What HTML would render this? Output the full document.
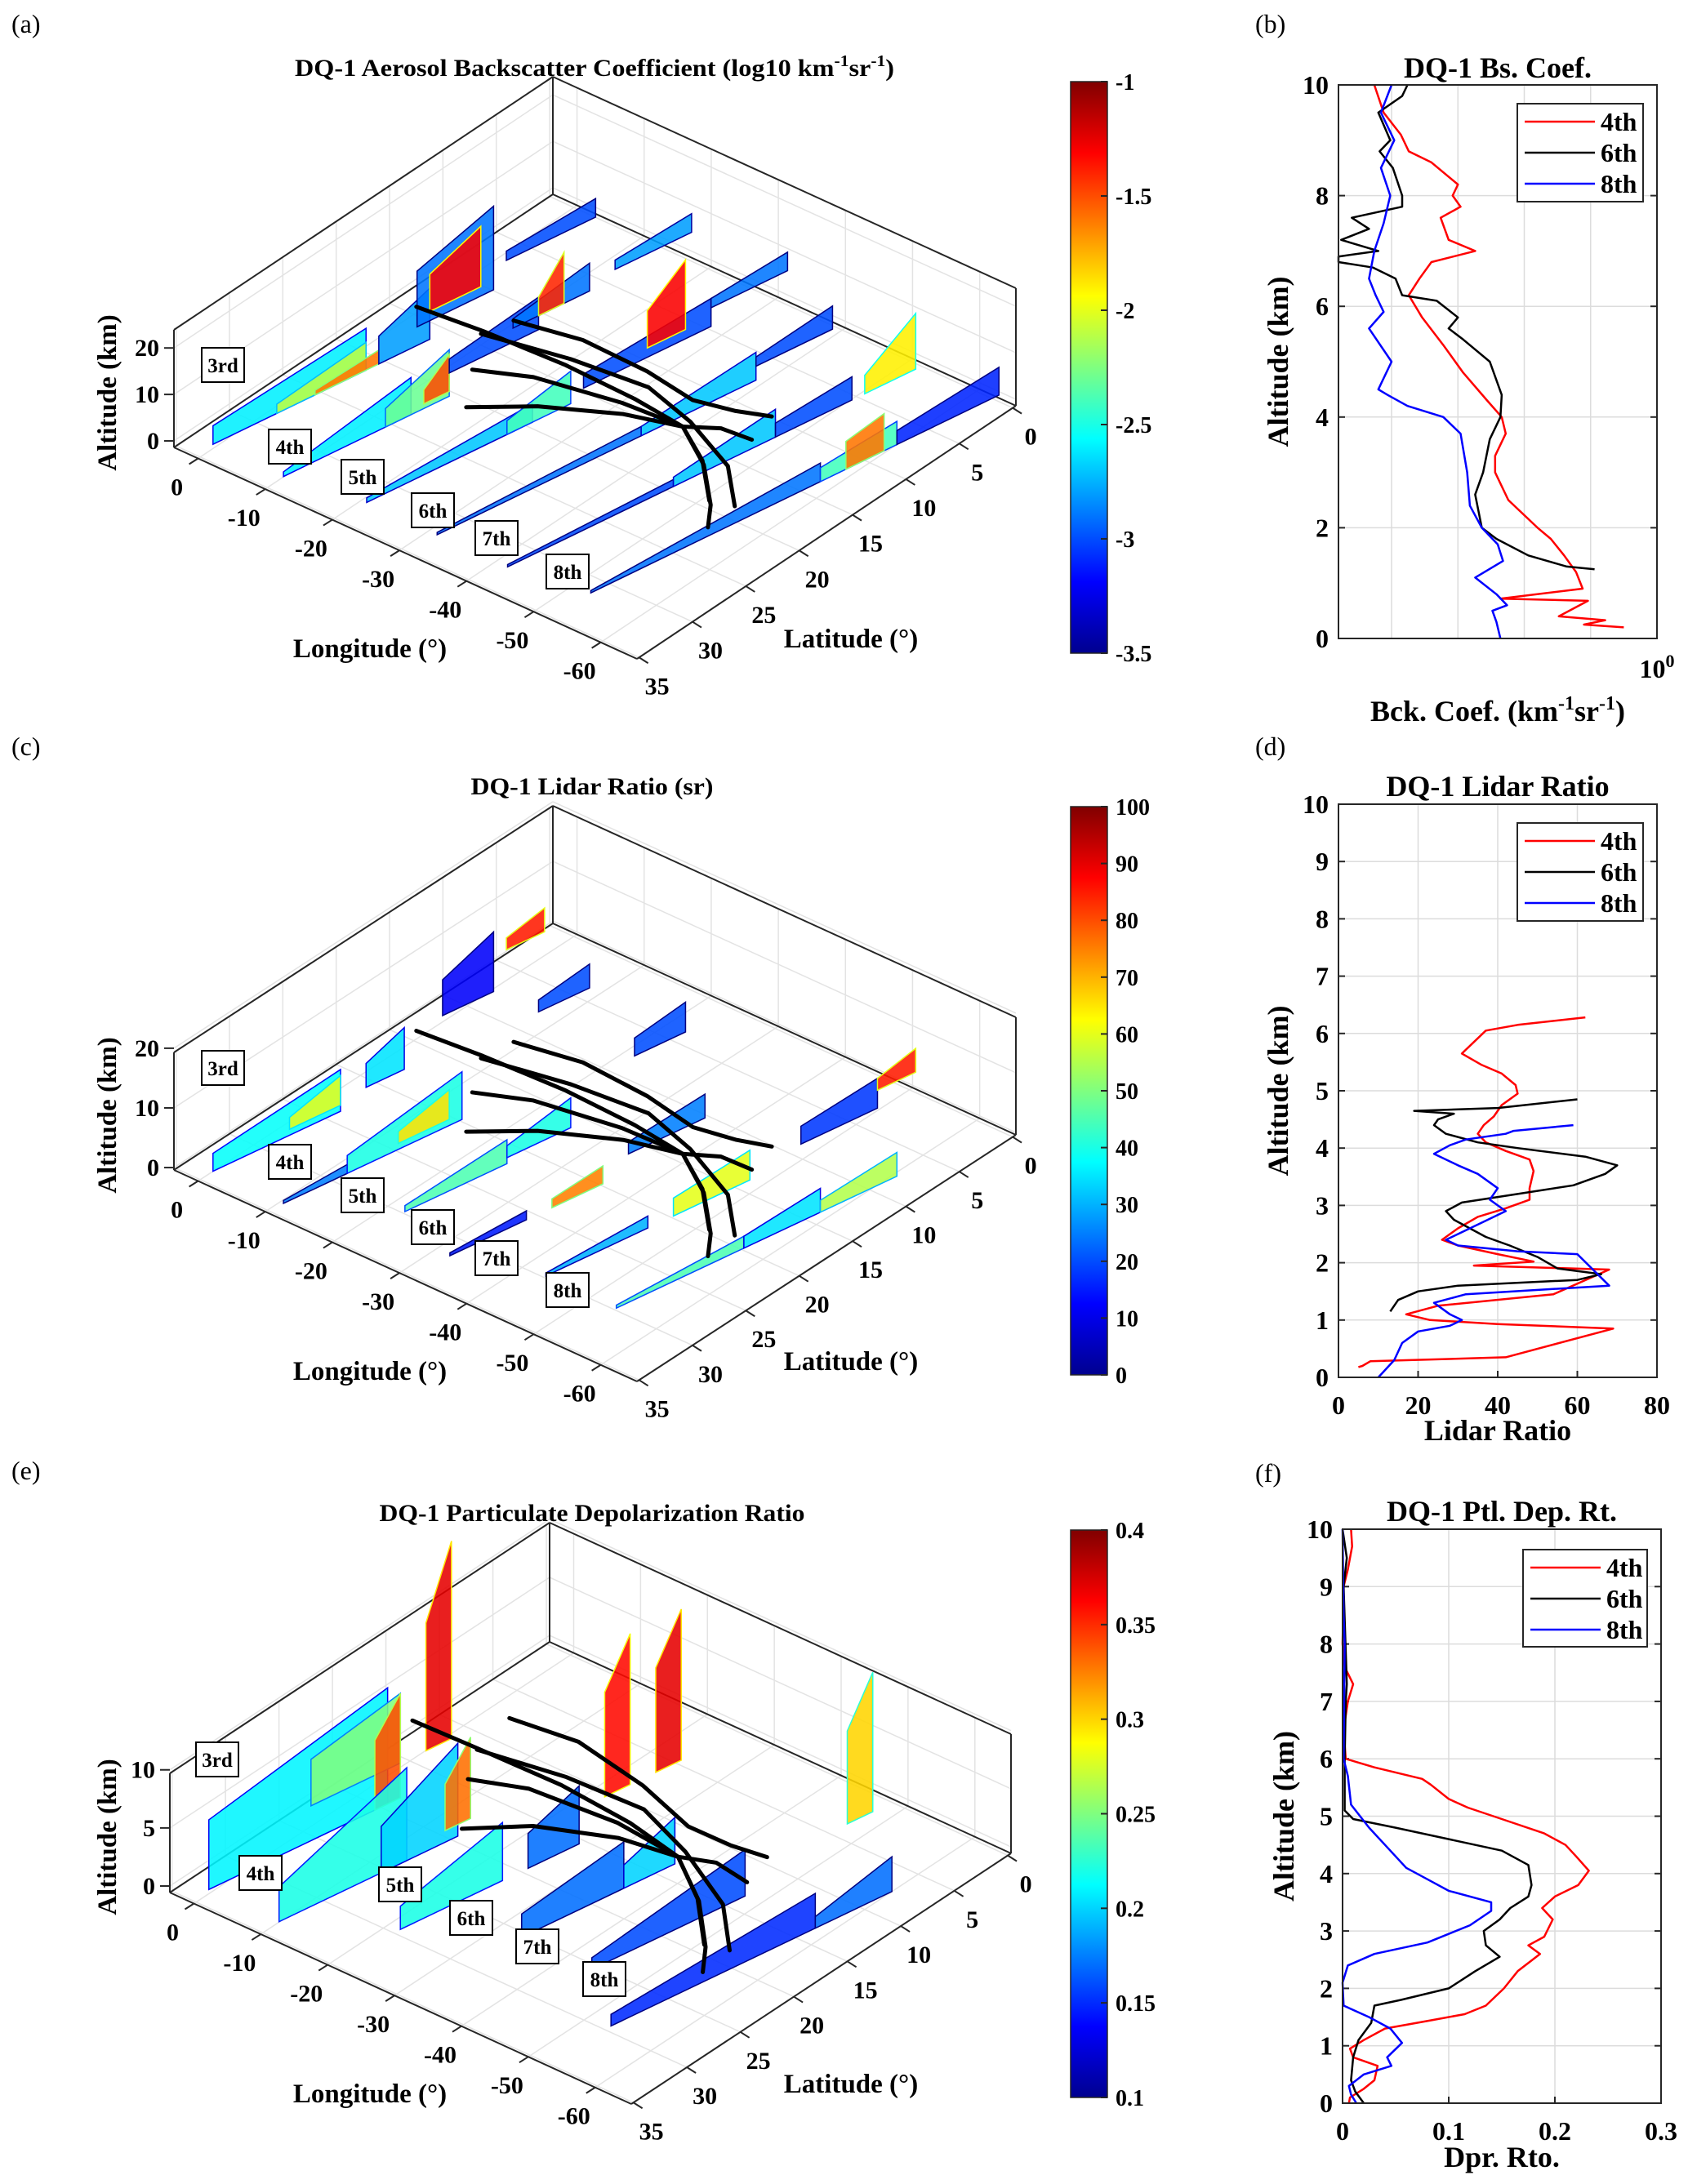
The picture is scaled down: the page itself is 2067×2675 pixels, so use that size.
<!DOCTYPE html>
<html><head><meta charset="utf-8">
<style>
html,body{margin:0;padding:0;background:#fff;}
svg{display:block;font-family:"Liberation Serif","DejaVu Serif",serif;}
</style></head>
<body>
<svg id="fig" xmlns="http://www.w3.org/2000/svg" width="2067" height="2675" viewBox="0 0 2067 2675">
<defs>
<linearGradient id="jetgrad" x1="0" y1="1" x2="0" y2="0">
<stop offset="0" stop-color="#00008f"/><stop offset="0.125" stop-color="#0000ff"/>
<stop offset="0.375" stop-color="#00ffff"/><stop offset="0.625" stop-color="#ffff00"/>
<stop offset="0.875" stop-color="#ff0000"/><stop offset="1" stop-color="#800000"/>
</linearGradient>
</defs>
</svg>
<script>
// ---------- profile data (altitude km, value) ----------
const bAlt4 = [10,9.5,9.1,8.8,8.6,8.2,8.0,7.8,7.6,7.2,7.0,6.8,6.5,6.2,5.8,5.3,4.8,4.3,4.0,3.7,3.3,3.0,2.5,2.0,1.8,1.5,1.2,0.9,0.72,0.68,0.4,0.33,0.25,0.2];
const bVal4 = [-2.13,-2.06,-1.93,-1.87,-1.70,-1.50,-1.54,-1.48,-1.63,-1.57,-1.37,-1.70,-1.79,-1.87,-1.77,-1.61,-1.46,-1.28,-1.17,-1.14,-1.22,-1.22,-1.12,-0.90,-0.80,-0.70,-0.61,-0.56,-1.18,-0.52,-0.74,-0.39,-0.55,-0.25];
const bAlt6 = [10,9.8,9.5,9.0,8.8,8.5,8.0,7.8,7.6,7.4,7.2,7.0,6.9,6.8,6.7,6.5,6.2,6.1,5.8,5.6,5.4,5.0,4.4,4.0,3.6,3.0,2.6,2.0,1.8,1.5,1.3,1.25];
const bVal6 = [-1.88,-1.92,-2.10,-2.01,-2.09,-1.99,-1.92,-1.92,-2.30,-2.17,-2.38,-2.10,-2.40,-2.40,-2.14,-1.97,-1.92,-1.66,-1.50,-1.57,-1.46,-1.26,-1.17,-1.18,-1.26,-1.31,-1.37,-1.32,-1.21,-0.97,-0.68,-0.47];
const bAlt8 = [10,9.5,9.0,8.5,8.0,7.5,7.0,6.5,6.2,5.9,5.6,5.0,4.5,4.4,4.2,4.0,3.7,3.0,2.4,2.0,1.7,1.4,1.1,0.8,0.6,0.5,0.3,0];
const bVal8 = [-2.0,-2.08,-1.98,-2.08,-2.01,-2.06,-2.13,-2.17,-2.12,-2.06,-2.17,-2.0,-2.1,-2.03,-1.88,-1.61,-1.48,-1.43,-1.41,-1.32,-1.20,-1.16,-1.37,-1.21,-1.13,-1.24,-1.21,-1.18];

const dAlt4 = [6.28,6.15,6.05,5.85,5.65,5.45,5.3,5.1,4.95,4.75,4.55,4.4,4.25,4.1,3.95,3.8,3.6,3.3,3.1,2.95,2.8,2.6,2.4,2.3,2.15,2.02,1.95,1.88,1.45,1.25,1.1,1.0,0.93,0.85,0.35,0.28,0.2,0.18];
const dVal4 = [62,45,37,34,31,36,41,44.5,45,41,39,36.5,35,37,42,48,49,48,48,42,35,30,26,30,40,49,34,68,54,25,17,23,40,69,42,8,6,5];
const dAlt6 = [4.85,4.7,4.65,4.6,4.5,4.4,4.25,4.1,4.0,3.85,3.7,3.55,3.35,3.2,3.05,2.9,2.75,2.6,2.45,2.3,2.1,1.9,1.8,1.7,1.6,1.5,1.35,1.15];
const dVal6 = [60,40,19,29,25,24,27,35,45,62,70,67,59,45,31,27,29,33,37,43,50,55,66,60,30,20,15,13];
const dAlt8 = [4.4,4.3,4.25,4.15,4.05,3.9,3.7,3.55,3.3,3.1,2.9,2.7,2.5,2.4,2.3,2.2,2.15,1.6,1.45,1.3,1.1,1.0,0.9,0.8,0.6,0.3,0.15,0];
const dVal8 = [59,44,42,32,28,24,30,35,40,38,42,36,30,27,30,45,60,68,32,24,28,31,28,20,16,14,12,10];

const fAlt4 = [10,9.7,9.3,9.0,8,7.6,7.3,7.0,6.5,6.0,5.85,5.65,5.55,5.3,5.15,4.95,4.7,4.5,4.3,4.05,3.8,3.6,3.4,3.2,2.9,2.75,2.6,2.3,2.0,1.7,1.55,1.45,1.3,1.1,0.95,0.8,0.65,0.4,0.25,0.1,0];
const fVal4 = [0.008,0.009,0.005,0.001,0,0.002,0.01,0.005,0.001,0.003,0.03,0.075,0.083,0.10,0.118,0.15,0.19,0.21,0.22,0.232,0.222,0.2,0.188,0.198,0.19,0.175,0.186,0.165,0.152,0.135,0.115,0.085,0.04,0.02,0.007,0.01,0.033,0.03,0.02,0.007,0.006];
const fAlt6 = [10,9.5,9,7.3,7.0,6,5.1,4.95,4.8,4.6,4.4,4.15,3.8,3.6,3.4,3.2,3.0,2.75,2.55,2.3,2.0,1.8,1.7,1.4,1.1,0.8,0.4,0.2,0];
const fVal6 = [0,0.004,0.001,0.004,0.003,0.002,0.002,0.01,0.05,0.1,0.15,0.175,0.178,0.175,0.158,0.148,0.133,0.135,0.148,0.125,0.1,0.055,0.03,0.027,0.015,0.01,0.008,0.012,0.02];
const fAlt8 = [10,8.5,8,6,5.7,5.2,4.8,4.5,4.1,3.9,3.7,3.5,3.35,3.1,2.8,2.6,2.4,2.1,1.7,1.5,1.3,1.05,0.8,0.65,0.5,0.3,0.15,0];
const fVal8 = [0,0.001,0.002,0.001,0.005,0.008,0.025,0.04,0.06,0.08,0.1,0.14,0.14,0.12,0.08,0.03,0.005,0,0.001,0.025,0.045,0.056,0.042,0.046,0.02,0.006,0.008,0.013];

// ---------- 3D curtain data ----------
const trackNames = ["3rd","4th","5th","6th","7th","8th"];
const trackLon = [0,-10.5,-21,-31.5,-42,-52.5];
// [track, latStart, latEnd, altBottom, topAtStart, topAtEnd, value]
const segA = [
 [0,34,22,0,4,9,-2.6],[0,29,22,0,2,6,-2.1],[0,26,21,0,1,3,-1.6],[0,21,17,0,6,11,-2.8],
 [0,18,12,4,16,22,-2.9],[0,17,13,6,14,19,-1.3],[0,11,4,9,11,13,-3.0],
 [1,34,24,0,1,8,-2.6],[1,26,21,0,4,10,-2.3],[1,23,21,1,4,9,-1.5],[1,21,14,5,8,12,-3.0],
 [1,16,10,8,10,14,-2.9],[1,14,12,8,12,19,-1.4],[1,8,2,10,12,14,-2.8],
 [2,33,20,0,1,4,-2.7],[2,22,17,0,3,7,-2.4],[2,16,6,2,5,8,-3.0],[2,11,8,4,12,19,-1.3],[2,6,0,6,8,10,-2.9],
 [3,33,17,0,0.5,2,-2.9],[3,17,8,0,2,6,-2.7],[3,8,2,3,5,8,-3.0],
 [4,33,20,0,0.5,1.5,-3.0],[4,20,12,0,2,6,-2.7],[4,12,6,0,3,5,-3.0],[4,5,1,0,4,12,-1.9],
 [5,32,14,0,0.5,4,-2.9],[5,14,8,0,3,5,-2.4],[5,12,9,0,6,8,-1.6],[5,8,0,0,3,6,-3.1]
];
const segC = [
 [0,34,24,0,3,7,38],[0,28,24,1,3,6,60],[0,22,19,2,6,9,35],[0,16,12,8,14,18,12],[0,11,8,14,16,18,85],
 [1,34,29,0,0.5,1.5,25],[1,29,20,0,3,8,40],[1,25,21,1,3,6,65],[1,14,10,12,14,16,20],
 [2,30,22,0,1,4,45],[2,22,17,1,3,6,40],[2,12,8,8,11,13,20],
 [3,32,26,0,0.5,1.5,15],[3,24,20,0,1.5,3,75],[3,18,12,3,5,7,25],
 [4,30,22,0,0.5,2,30],[4,20,14,0,3,5,60],[4,10,4,2,5,7,18],[4,4,1,5,7,9,85],
 [5,30,20,0,0.5,2,45],[5,20,14,0,2,4,35],[5,14,8,0,2,4,55]
];
const segE = [
 [0,34,20,0,6,10,0.21],[0,26,19,3,7,9,0.25],[0,21,19,0,6,9,0.34],[0,17,15,3,14,20,0.37],
 [1,34,24,0,3,8,0.22],[1,26,20,0,4,8,0.2],[1,21,19,1,5,8,0.33],
 [2,30,22,0,2,5,0.22],[2,20,16,0,3,5,0.17],[2,14,12,3,12,16,0.36],[2,10,8,3,12,16,0.37],
 [3,26,18,0,2,4,0.17],[3,18,14,0,2,4,0.2],
 [4,26,14,0,1,4,0.16],[4,6,4,2,10,14,0.3],
 [5,30,14,0,1,3,0.15],[5,14,8,0,1,3,0.17]
];
// trajectories: lon, lat, alt
const trajLon = [[-5,-13.5,-25,-35,-42,-48,-53,-55.3],[-18.9,-25,-35,-42,-47,-52],[-21.5,-28,-36,-42,-45,-48],[-17.9,-26,-34,-40,-44,-47],[-14,-25,-35,-42,-50,-55]];
const trajLat = [[17.9,17,16.5,16.3,16.2,18,20.5,22.2],[21.4,19.5,17.5,16.2,17.5,20],[23.6,21,18,16.2,14.5,13.5],[16.9,15.5,14.5,14,12.5,11],[17.5,16,15,15.5,17,19.5]];
const trajAlt = [[8,7,6.5,5.5,4,2.5,1,0.3],[9,8.5,6.5,4,2,0.5],[6,6.5,5.5,4,3,1],[12,11,8,5,3,1.5],[7.5,7,6,4,2,0.5]];

const NS = "http://www.w3.org/2000/svg";
const svg = document.getElementById('fig');
function el(tag, attrs, parent, text){
  const e = document.createElementNS(NS, tag);
  for (const k in attrs) e.setAttribute(k, attrs[k]);
  if (text !== undefined) e.textContent = text;
  (parent || svg).appendChild(e);
  return e;
}
function jet(t){
  t = Math.max(0, Math.min(1, t));
  const c = v => Math.round(255*Math.max(0, Math.min(1, v)));
  return `rgb(${c(1.5-Math.abs(4*t-3))},${c(1.5-Math.abs(4*t-2))},${c(1.5-Math.abs(4*t-1))})`;
}
const BOLD = "bold";

// ---------- 3D panels ----------
const panels3d = [
 {key:'a', front:[780,807], left:[213,548], right:[1244,497], h:144, zmin:-1.4, zmax:23.9, zt:[0,10,20], seg:segA, vmin:-3.5, vmax:-1, ts:1.0,
  title:"DQ-1 Aerosol Backscatter Coefficient (log10 km", titleY:93, titleW:734, cbY:[100,800], cbT:["-1","-1.5","-2","-2.5","-3","-3.5"],
  labels:[[273,447],[355,547],[444,584],[530,625],[608,659],[695,700]], tag:"(a)", tagY:40},
 {key:'c', front:[780,1692], left:[213,1433], right:[1244,1390], h:144, zmin:-0.4, zmax:19.3, zt:[0,10,20], seg:segC, vmin:0, vmax:100, ts:0.9,
  title:"DQ-1 Lidar Ratio (sr)", titleY:973, titleW:297, cbY:[988,1684], cbT:["100","90","80","70","60","50","40","30","20","10","0"],
  labels:[[273,1308],[355,1423],[444,1464],[530,1503],[608,1541],[695,1580]], tag:"(c)", tagY:925},
 {key:'e', front:[773,2577], left:[208,2318], right:[1238,2270], h:146, zmin:-0.56, zmax:9.7, zt:[0,5,10], seg:segE, vmin:0.1, vmax:0.4, ts:0.75,
  title:"DQ-1 Particulate Depolarization Ratio", titleY:1863, titleW:521, cbY:[1874,2569], cbT:["0.4","0.35","0.3","0.25","0.2","0.15","0.1"],
  labels:[[266,2155],[319,2294],[490,2308],[577,2349],[658,2384],[740,2424]], tag:"(e)", tagY:1812}
];
const LONMIN=-65.4, LONMAX=3.6, LATMIN=-0.3, LATMAX=35.2;

panels3d.forEach(p => {
  const g = el('g', {}, svg);
  
  
  const P = (lon, lat, z) => {
    const u = (lon - LONMIN)/(LONMAX - LONMIN), v = (LATMAX - lat)/(LATMAX - LATMIN);
    const x = p.front[0] + u*(p.left[0]-p.front[0]) + v*(p.right[0]-p.front[0]);
    const y = p.front[1] + u*(p.left[1]-p.front[1]) + v*(p.right[1]-p.front[1]) - (z - p.zmin)/(p.zmax - p.zmin)*p.h;
    return [x, y];
  };
  const line = (a, b, attrs) => el('line', Object.assign({x1:a[0], y1:a[1], x2:b[0], y2:b[1]}, attrs), g);
  const L0 = P(LONMAX, LATMAX, p.zmin), B0 = P(LONMAX, LATMIN, p.zmin), R0 = P(LONMIN, LATMIN, p.zmin), F0 = P(LONMIN, LATMAX, p.zmin);
  const L1 = P(LONMAX, LATMAX, p.zmax), B1 = P(LONMAX, LATMIN, p.zmax), R1 = P(LONMIN, LATMIN, p.zmax);
  const grid = {stroke:'#e3e3e3', 'stroke-width':1.5};
  [0,-10,-20,-30,-40,-50,-60].forEach(lon => { line(P(lon,LATMAX,p.zmin), P(lon,LATMIN,p.zmin), grid); line(P(lon,LATMIN,p.zmin), P(lon,LATMIN,p.zmax), grid); });
  [0,5,10,15,20,25,30,35].forEach(lat => { line(P(LONMAX,lat,p.zmin), P(LONMIN,lat,p.zmin), grid); line(P(LONMAX,lat,p.zmin), P(LONMAX,lat,p.zmax), grid); });
  p.zt.forEach(z => { line(P(LONMAX,LATMAX,z), P(LONMAX,LATMIN,z), grid); line(P(LONMAX,LATMIN,z), P(LONMIN,LATMIN,z), grid); });
  const edge = {stroke:'#262626', 'stroke-width':2};
  [[L0,B0],[B0,R0],[L0,F0],[F0,R0],[L0,L1],[B0,B1],[R0,R1],[L1,B1],[B1,R1]].forEach(e => line(e[0], e[1], edge));
  // curtains
  p.seg.forEach(s => {
    const lonAt = lat => trackLon[s[0]] - 0.31*(35 - lat);
    const a = P(lonAt(s[1]), s[1], s[3]), b = P(lonAt(s[2]), s[2], s[3]);
    const c = P(lonAt(s[2]), s[2], s[5]), d = P(lonAt(s[1]), s[1], s[4]);
    const t = (s[6] - p.vmin)/(p.vmax - p.vmin);
    const poly = el('polygon', {points:[a,b,c,d].map(q => q.join(',')).join(' '), fill:jet(t), 'fill-opacity':0.88, stroke:jet(Math.max(0,t-0.25)), 'stroke-width':1.5}, g);
    
    
  });
  // trajectories
  trajLon.forEach((tl, i) => {
    const pts = tl.map((lon, j) => P(lon, trajLat[i][j], trajAlt[i][j]*p.ts).join(',')).join(' ');
    const pl = el('polyline', {points:pts, fill:'none', stroke:'#000', 'stroke-width':5, 'stroke-linejoin':'round', 'stroke-linecap':'round'}, g);
    
    
  });
  [0,-10,-20,-30,-40,-50,-60].forEach(lon => {
    const q = P(lon, LATMAX, p.zmin);
    line(q, [q[0]-11, q[1]+7], edge);
    const t = el('text', {x:q[0]-26, y:q[1]+45, 'font-size':30, 'font-weight':BOLD, 'text-anchor':'middle'}, g, String(lon));
    
    
  });
  [0,5,10,15,20,25,30,35].forEach(lat => {
    const q = P(LONMIN, lat, p.zmin);
    line(q, [q[0]+11, q[1]+7], edge);
    const t = el('text', {x:q[0]+22, y:q[1]+45, 'font-size':30, 'font-weight':BOLD, 'text-anchor':'middle'}, g, String(lat));
    
    
  });
  p.zt.forEach(z => {
    const q = P(LONMAX, LATMAX, z);
    line(q, [q[0]-12, q[1]], edge);
    const t = el('text', {x:q[0]-18, y:q[1]+10, 'font-size':30, 'font-weight':BOLD, 'text-anchor':'end'}, g, String(z));
    
    
  });
  const yl = el('text', {x:0, y:0, 'font-size':33, 'font-weight':BOLD, 'text-anchor':'middle', transform:`translate(142,${(L0[1]+L1[1])/2+5}) rotate(-90)`}, g, 'Altitude (km)');
  
  
  const xl = el('text', {x:453, y:F0[1]-2, 'font-size':33, 'font-weight':BOLD, 'text-anchor':'middle'}, g, 'Longitude (°)');
  
  
  const la = el('text', {x:1042, y:F0[1]-14, 'font-size':33, 'font-weight':BOLD, 'text-anchor':'middle'}, g, 'Latitude (°)');
  
  
  let tt;
  if (p.key === 'a') {
    tt = el('text', {x:361, y:p.titleY, 'font-size':30, 'font-weight':BOLD, textLength:p.titleW, lengthAdjust:'spacingAndGlyphs'}, g);
    tt.innerHTML = 'DQ-1 Aerosol Backscatter Coefficient (log10 km<tspan dy="-12" font-size="20">-1</tspan><tspan dy="12">sr</tspan><tspan dy="-12" font-size="20">-1</tspan><tspan dy="12">)</tspan>';
  } else {
    tt = el('text', {x:725, y:p.titleY, 'font-size':30, 'font-weight':BOLD, 'text-anchor':'middle', textLength:p.titleW, lengthAdjust:'spacingAndGlyphs'}, g, p.title);
  }
  
  
  const tag = el('text', {x:14, y:p.tagY, 'font-size':32}, g, p.tag);
  
  
  p.labels.forEach((lb, i) => {
    const r = el('rect', {x:lb[0]-26, y:lb[1]-21, width:52, height:42, fill:'#fff', stroke:'#000', 'stroke-width':2}, g);
    
    
    const t = el('text', {x:lb[0], y:lb[1]+9, 'font-size':25, 'font-weight':BOLD, 'text-anchor':'middle'}, g, trackNames[i]);
    
    
  });
  const cb = el('rect', {x:1311, y:p.cbY[0], width:45, height:p.cbY[1]-p.cbY[0], fill:'url(#jetgrad)', stroke:'#262626', 'stroke-width':1.5}, g);
  
  
  p.cbT.forEach((lab, i) => {
    const y = p.cbY[0] + i*(p.cbY[1]-p.cbY[0])/(p.cbT.length-1);
    line([1348, y], [1356, y], edge);
    const t = el('text', {x:1366, y:y+10, 'font-size':28, 'font-weight':BOLD}, g, lab);
    
    
  });
});

// ---------- profile panels ----------
const profiles = [
 {key:'b', x0:1639, x1:2029, y0:104, y1:782, xmin:-2.4, xmax:0, xt:[], xg:[-2,-1.5,-1,-0.5], ystep:2, title:'DQ-1 Bs. Coef.', titleY:95,
  series:[[bAlt4,bVal4,'#ff0000'],[bAlt6,bVal6,'#000000'],[bAlt8,bVal8,'#0000ff']], leg:[1858,127,154,120], tag:'(b)', tagY:40, yl:1565},
 {key:'d', x0:1639, x1:2029, y0:985, y1:1687, xmin:0, xmax:80, xt:[0,20,40,60,80], xg:[20,40,60], ystep:1, title:'DQ-1 Lidar Ratio', titleY:975,
  series:[[dAlt4,dVal4,'#ff0000'],[dAlt6,dVal6,'#000000'],[dAlt8,dVal8,'#0000ff']], leg:[1858,1008,154,120], tag:'(d)', tagY:925, yl:1565, xlab:'Lidar Ratio', xlabY:1764},
 {key:'f', x0:1644, x1:2034, y0:1873, y1:2576, xmin:0, xmax:0.3, xt:[0,0.1,0.2,0.3], xg:[0.1,0.2], ystep:1, title:'DQ-1 Ptl. Dep. Rt.', titleY:1863,
  series:[[fAlt4,fVal4,'#ff0000'],[fAlt6,fVal6,'#000000'],[fAlt8,fVal8,'#0000ff']], leg:[1865,1898,152,119], tag:'(f)', tagY:1815, yl:1572, xlab:'Dpr. Rto.', xlabY:2654}
];
const legNames = ['4th','6th','8th'];
profiles.forEach(p => {
  const g = el('g', {}, svg);
  
  
  const X = v => p.x0 + (v - p.xmin)/(p.xmax - p.xmin)*(p.x1 - p.x0);
  const Y = a => p.y1 - a/10*(p.y1 - p.y0);
  const gs = {stroke:'#dcdcdc', 'stroke-width':1.5};
  for (let a = 0; a <= 10; a += p.ystep) {
    el('line', Object.assign({x1:p.x0, y1:Y(a), x2:p.x1, y2:Y(a)}, gs), g);
    el('line', {x1:p.x0, y1:Y(a), x2:p.x0+8, y2:Y(a), stroke:'#262626', 'stroke-width':2}, g);
    el('line', {x1:p.x1, y1:Y(a), x2:p.x1-8, y2:Y(a), stroke:'#262626', 'stroke-width':2}, g);
    const t = el('text', {x:p.x0-12, y:Y(a)+11, 'font-size':32, 'font-weight':BOLD, 'text-anchor':'end'}, g, String(a));
    
    
  }
  p.xg.forEach(v => el('line', Object.assign({x1:X(v), y1:p.y0, x2:X(v), y2:p.y1}, gs), g));
  p.xt.forEach(v => {
    el('line', {x1:X(v), y1:p.y1, x2:X(v), y2:p.y1-8, stroke:'#262626', 'stroke-width':2}, g);
    const t = el('text', {x:X(v), y:p.y1+45, 'font-size':32, 'font-weight':BOLD, 'text-anchor':'middle'}, g, String(v));
    
    
  });
  p.series.forEach((s, i) => {
    const pts = s[0].map((a, j) => X(s[1][j]).toFixed(1) + ',' + Y(a).toFixed(1)).join(' ');
    const pl = el('polyline', {points:pts, fill:'none', stroke:s[2], 'stroke-width':2.5, 'stroke-linejoin':'round'}, g);
    
    
  });
  const fr = el('rect', {x:p.x0, y:p.y0, width:p.x1-p.x0, height:p.y1-p.y0, fill:'none', stroke:'#262626', 'stroke-width':2}, g);
  
  
  const tt = el('text', {x:(p.x0+p.x1)/2, y:p.titleY, 'font-size':36, 'font-weight':BOLD, 'text-anchor':'middle'}, g, p.title);
  
  
  const tag = el('text', {x:1537, y:p.tagY, 'font-size':32}, g, p.tag);
  
  
  const yl = el('text', {x:0, y:0, 'font-size':36, 'font-weight':BOLD, 'text-anchor':'middle', transform:`translate(${p.yl+12},${(p.y0+p.y1)/2}) rotate(-90)`}, g, 'Altitude (km)');
  
  
  let xl;
  if (p.key === 'b') {
    xl = el('text', {x:1834, y:883, 'font-size':36, 'font-weight':BOLD, 'text-anchor':'middle'}, g);
    xl.innerHTML = 'Bck. Coef. (km<tspan dy="-14" font-size="24">-1</tspan><tspan dy="14">sr</tspan><tspan dy="-14" font-size="24">-1</tspan><tspan dy="14">)</tspan>';
    const e0 = el('text', {x:2029, y:830, 'font-size':32, 'font-weight':BOLD, 'text-anchor':'middle'}, g);
    e0.innerHTML = '10<tspan dy="-13" font-size="22">0</tspan>';
    
    
  } else {
    xl = el('text', {x:(p.x0+p.x1)/2, y:p.xlabY, 'font-size':36, 'font-weight':BOLD, 'text-anchor':'middle'}, g, p.xlab);
  }
  
  
  const [lx, ly, lw, lh] = p.leg;
  const lr = el('rect', {x:lx, y:ly, width:lw, height:lh, fill:'#fff', stroke:'#262626', 'stroke-width':2}, g);
  
  
  p.series.forEach((s, i) => {
    const ry = ly + 22 + i*38;
    el('line', {x1:lx+9, y1:ry, x2:lx+95, y2:ry, stroke:s[2], 'stroke-width':2.5}, g);
    const t = el('text', {x:lx+102, y:ry+11, 'font-size':32, 'font-weight':BOLD}, g, legNames[i]);
    
    
  });
});
</script>
</body></html>
